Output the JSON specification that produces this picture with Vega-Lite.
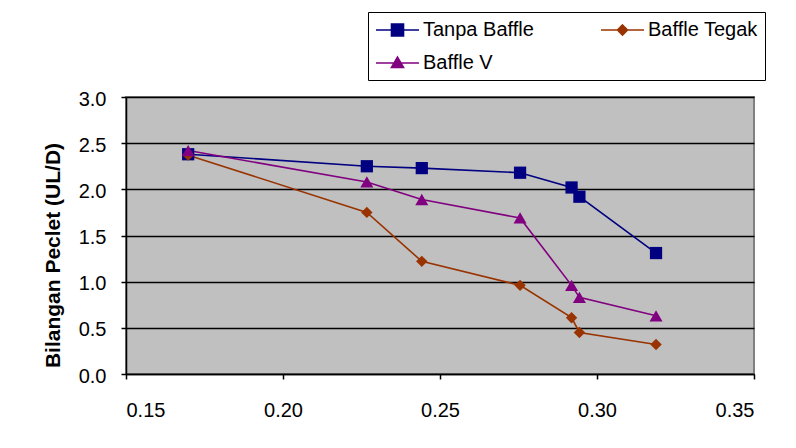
{
  "$schema": "https://vega.github.io/schema/vega-lite/v6.json",
  "width": 628,
  "height": 277,
  "autosize": {"type": "none"},
  "padding": {"left": 126, "top": 97, "right": 42, "bottom": 74},
  "background": "white",
  "data": {
    "values": [
      {"x": 0.1698, "pe": 2.38, "series": "Tanpa Baffle"},
      {"x": 0.2267, "pe": 2.25, "series": "Tanpa Baffle"},
      {"x": 0.2442, "pe": 2.23, "series": "Tanpa Baffle"},
      {"x": 0.2755, "pe": 2.18, "series": "Tanpa Baffle"},
      {"x": 0.2919, "pe": 2.02, "series": "Tanpa Baffle"},
      {"x": 0.2944, "pe": 1.92, "series": "Tanpa Baffle"},
      {"x": 0.3188, "pe": 1.31, "series": "Tanpa Baffle"},
      {"x": 0.1698, "pe": 2.37, "series": "Baffle Tegak"},
      {"x": 0.2267, "pe": 1.75, "series": "Baffle Tegak"},
      {"x": 0.2442, "pe": 1.22, "series": "Baffle Tegak"},
      {"x": 0.2755, "pe": 0.96, "series": "Baffle Tegak"},
      {"x": 0.2919, "pe": 0.61, "series": "Baffle Tegak"},
      {"x": 0.2944, "pe": 0.45, "series": "Baffle Tegak"},
      {"x": 0.3188, "pe": 0.32, "series": "Baffle Tegak"},
      {"x": 0.1698, "pe": 2.42, "series": "Baffle V"},
      {"x": 0.2267, "pe": 2.08, "series": "Baffle V"},
      {"x": 0.2442, "pe": 1.89, "series": "Baffle V"},
      {"x": 0.2755, "pe": 1.69, "series": "Baffle V"},
      {"x": 0.2919, "pe": 0.96, "series": "Baffle V"},
      {"x": 0.2944, "pe": 0.83, "series": "Baffle V"},
      {"x": 0.3188, "pe": 0.63, "series": "Baffle V"}
    ]
  },
  "encoding": {
    "x": {
      "field": "x", "type": "quantitative",
      "scale": {"domain": [0.15, 0.35], "nice": false, "zero": false},
      "axis": {
        "title": null, "values": [0.15, 0.2, 0.25, 0.3, 0.35], "format": ".2f",
        "grid": false, "tickSize": 5, "labelPadding": 21
      }
    },
    "y": {
      "field": "pe", "type": "quantitative",
      "scale": {"domain": [0, 3], "nice": false},
      "axis": {
        "title": "Bilangan Peclet (UL/D)",
        "values": [0, 0.5, 1, 1.5, 2, 2.5, 3], "format": ".1f",
        "grid": true, "gridColor": "#000000", "gridWidth": 1.3, "gridOpacity": 1,
        "tickSize": 5, "labelPadding": 15, "labelOffset": 2,
        "titleFontSize": 21, "titleFontWeight": "bold", "titleX": -63, "titleY": 158, "titleLimit": 400
      }
    }
  },
  "layer": [
    {
      "transform": [{"filter": "datum.series == 'Tanpa Baffle'"}],
      "mark": {"type": "line", "strokeWidth": 1.6, "color": "#000080"},
      "encoding": {}
    },
    {
      "transform": [{"filter": "datum.series == 'Baffle Tegak'"}],
      "mark": {"type": "line", "strokeWidth": 1.6, "color": "#993300"},
      "encoding": {}
    },
    {
      "transform": [{"filter": "datum.series == 'Baffle V'"}],
      "mark": {"type": "line", "strokeWidth": 1.6, "color": "#800080"},
      "encoding": {}
    },
    {
      "transform": [{"filter": "datum.series == 'Tanpa Baffle'"}],
      "mark": {"type": "point", "shape": "square", "filled": true, "size": 150, "color": "#000080", "opacity": 1}
    },
    {
      "transform": [{"filter": "datum.series == 'Baffle Tegak'"}],
      "mark": {"type": "point", "shape": "diamond", "filled": true, "size": 130, "color": "#993300", "opacity": 1}
    },
    {
      "transform": [{"filter": "datum.series == 'Baffle V'"}],
      "mark": {"type": "point", "shape": "triangle-up", "filled": true, "size": 170, "color": "#800080", "opacity": 1}
    },
    {
      "transform": [{"filter": "false"}],
      "mark": {"type": "point", "filled": true, "opacity": 1, "strokeWidth": 1.6},
      "encoding": {
        "color": {
          "field": "series", "type": "nominal",
          "scale": {"domain": ["Tanpa Baffle", "Baffle Tegak", "Baffle V"], "range": ["#000080", "#993300", "#800080"]},
          "legend": {
            "title": null, "orient": "none", "legendX": 242, "legendY": -85, "columns": 2, "direction": "horizontal"
          }
        },
        "stroke": {
          "field": "series", "type": "nominal",
          "scale": {"domain": ["Tanpa Baffle", "Baffle Tegak", "Baffle V"], "range": ["#000080", "#993300", "#800080"]},
          "legend": {
            "title": null, "orient": "none", "legendX": 242, "legendY": -85, "columns": 2, "direction": "horizontal"
          }
        },
        "shape": {
          "field": "series", "type": "nominal",
          "scale": {
            "domain": ["Tanpa Baffle", "Baffle Tegak", "Baffle V"],
            "range": [
              "M-1,0H3.3M0.55,-0.6H1.75V0.6H0.55Z",
              "M-1,0H3.3M1.15,-0.5L1.65,0L1.15,0.5L0.65,0Z",
              "M-1,0H3.3M1.15,-0.58L1.75,0.45H0.55Z"
            ]
          },
          "legend": {
            "title": null, "orient": "none", "legendX": 242, "legendY": -85, "columns": 2, "direction": "horizontal"
          }
        }
      }
    }
  ],
  "config": {
    "font": "Liberation Sans",
    "view": {"fill": "#C0C0C0", "stroke": "#808080", "strokeWidth": 2},
    "axis": {
      "labelFont": "Liberation Sans", "labelFontSize": 20, "labelColor": "#000000",
      "titleFont": "Liberation Sans", "titleColor": "#000000",
      "domainColor": "#000000", "domainWidth": 1.5, "tickColor": "#000000", "tickWidth": 1.5
    },
    "legend": {
      "labelFont": "Liberation Sans", "labelFontSize": 20, "labelColor": "#000000", "labelLimit": 300,
      "symbolSize": 400, "labelOffset": 26, "columnPadding": 63, "rowPadding": 12,
      "padding": 7, "fillColor": "#ffffff", "strokeColor": "#000000",
      "symbolStrokeWidth": 1.6
    }
  }
}
